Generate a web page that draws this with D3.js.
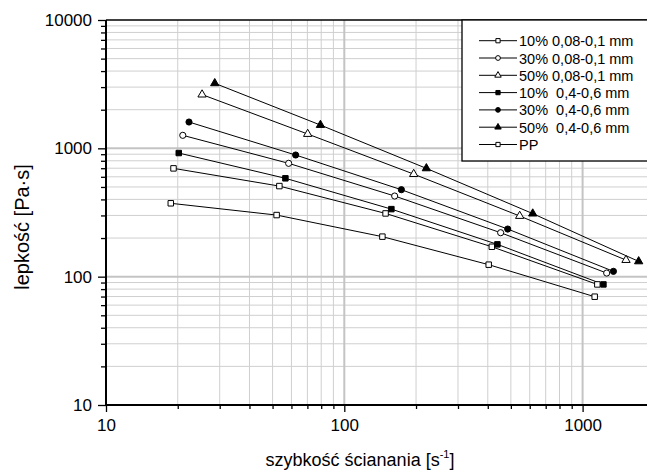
<!DOCTYPE html>
<html lang="pl">
<head>
    <meta charset="UTF-8">
    <title>Lepkość vs szybkość ścinania</title>
    <style>
        body { margin: 0; background: #fff; }
        svg { font-family: Arial, "Liberation Sans", sans-serif; }
        .legend text { white-space: pre; }
    </style>
</head>
<body>
    <div id="chart"></div>

    <script src="https://d3js.org/d3.v7.min.js"></script>
    <script>
        // data
        const seriesNames = ["10% 0,08-0,1 mm", "30% 0,08-0,1 mm", "50% 0,08-0,1 mm",
                             "10%  0,4-0,6 mm", "30%  0,4-0,6 mm", "50%  0,4-0,6 mm", "PP"];
        const shear10Fine   = [19.2, 53.4, 149, 416, 1153];
        const visc10Fine    = [698, 508, 311, 171, 87];
        const shear30Fine   = [21.0, 58.4, 162.7, 453, 1262];
        const visc30Fine    = [1263, 764, 425, 220, 106.7];
        const shear50Fine   = [25.3, 70.2, 195.5, 544.5, 1521];
        const visc50Fine    = [2622, 1293, 630, 297, 134.7];
        const shear10Coarse = [20.2, 56.6, 157.6, 439, 1223];
        const visc10Coarse  = [919, 584, 336, 178.5, 87];
        const shear30Coarse = [22.3, 62.5, 173.6, 485, 1347];
        const visc30Coarse  = [1603, 887, 476, 235, 110];
        const shear50Coarse = [28.6, 79.4, 221, 617.6, 1719];
        const visc50Coarse  = [3211, 1519, 698, 310, 131.5];
        const shearPP       = [18.7, 52.0, 144.5, 403.6, 1124];
        const viscPP        = [373, 302, 205, 124, 69.8];

        const xMajor = [10, 100, 1000];
        const yMajor = [10, 100, 1000, 10000];

        // marker styles per series
        const shapes = [d3.symbolSquare, d3.symbolCircle, d3.symbolTriangle,
                        d3.symbolSquare, d3.symbolCircle, d3.symbolTriangle, d3.symbolSquare];
        const filled = [false, false, false, true, true, true, false];

        const series = [
            [shear10Fine, visc10Fine], [shear30Fine, visc30Fine], [shear50Fine, visc50Fine],
            [shear10Coarse, visc10Coarse], [shear30Coarse, visc30Coarse], [shear50Coarse, visc50Coarse],
            [shearPP, viscPP]
        ].map((s, i) => ({
            name: seriesNames[i],
            points: s[0].map((x, j) => ({ x: x, y: s[1][j] }))
        }));

        const W = 647, H = 470;
        const plotLeft = 106, plotTop = 20, plotBottom = 405, plotRight = 660;

        const svg = d3.select("#chart").append("svg")
            .attr("width", W).attr("height", H);

        const x = d3.scaleLog()
            .domain([10, Math.pow(10, 1 + (plotRight - plotLeft) / 238.3)])
            .range([plotLeft, plotRight]);
        const y = d3.scaleLog().domain([10, 10000]).range([plotBottom, plotTop]);

        // minor values 2..9 per decade
        const xMinor = [], yMinor = [];
        [10, 100, 1000].forEach(d => { for (let k = 2; k <= 9; k++) xMinor.push(d * k); });
        [10, 100, 1000].forEach(d => { for (let k = 2; k <= 9; k++) yMinor.push(d * k); });

        // grid
        const grid = svg.append("g");
        grid.selectAll(".vmin").data(xMinor).enter().append("line")
            .attr("x1", d => x(d)).attr("x2", d => x(d))
            .attr("y1", plotTop).attr("y2", plotBottom)
            .attr("stroke", "#cfcfcf").attr("stroke-width", 1);
        grid.selectAll(".hmin").data(yMinor).enter().append("line")
            .attr("x1", plotLeft).attr("x2", W)
            .attr("y1", d => y(d)).attr("y2", d => y(d))
            .attr("stroke", "#cfcfcf").attr("stroke-width", 1);
        grid.selectAll(".vmaj").data(xMajor.slice(1)).enter().append("line")
            .attr("x1", d => x(d)).attr("x2", d => x(d))
            .attr("y1", plotTop).attr("y2", plotBottom)
            .attr("stroke", "#c4c4c4").attr("stroke-width", 2);
        grid.selectAll(".hmaj").data(yMajor.slice(1, 3)).enter().append("line")
            .attr("x1", plotLeft).attr("x2", W)
            .attr("y1", d => y(d)).attr("y2", d => y(d))
            .attr("stroke", "#c4c4c4").attr("stroke-width", 2);

        // top frame
        svg.append("line")
            .attr("x1", plotLeft).attr("x2", W)
            .attr("y1", plotTop).attr("y2", plotTop)
            .attr("stroke", "#000").attr("stroke-width", 1.5);

        // axes
        const xAxisMinor = d3.axisBottom(x).tickValues(xMinor).tickSize(4).tickFormat("");
        const xAxisMajor = d3.axisBottom(x).tickValues(xMajor).tickSize(7).tickFormat(d3.format("d"));
        const yAxisMinor = d3.axisLeft(y).tickValues(yMinor).tickSize(5).tickFormat("");
        const yAxisMajor = d3.axisLeft(y).tickValues(yMajor).tickSize(8).tickFormat(d3.format("d"));

        function styleAxis(g) {
            g.select(".domain").remove();
            g.selectAll(".tick line").attr("stroke", "#000").attr("stroke-width", 1.3);
            g.selectAll("text").attr("fill", "#000").attr("font-size", 17)
                .attr("font-family", "Arial, 'Liberation Sans', sans-serif");
        }

        svg.append("g").attr("transform", `translate(0,${plotBottom})`).call(xAxisMinor).call(styleAxis);
        svg.append("g").attr("transform", `translate(0,${plotBottom})`).call(xAxisMajor).call(styleAxis)
            .selectAll("text").attr("y", 14).attr("dy", "0.71em");
        svg.append("g").attr("transform", `translate(${plotLeft},0)`).call(yAxisMinor).call(styleAxis);
        svg.append("g").attr("transform", `translate(${plotLeft},0)`).call(yAxisMajor).call(styleAxis)
            .selectAll("text").attr("x", -14);

        // axis lines
        svg.append("line").attr("x1", plotLeft).attr("x2", plotLeft)
            .attr("y1", plotTop).attr("y2", plotBottom + 1)
            .attr("stroke", "#000").attr("stroke-width", 2);
        svg.append("line").attr("x1", plotLeft - 1).attr("x2", W)
            .attr("y1", plotBottom).attr("y2", plotBottom)
            .attr("stroke", "#000").attr("stroke-width", 2);

        // axis titles
        const xt = svg.append("text")
            .attr("x", 360).attr("y", 466)
            .attr("text-anchor", "middle")
            .attr("font-size", 18);
        xt.append("tspan").text("szybkość ścianania [s");
        xt.append("tspan").attr("font-size", 11).attr("dy", -8).text("-1");
        xt.append("tspan").attr("dy", 8).text("]");

        svg.append("text")
            .attr("transform", "translate(29,227) rotate(-90)")
            .attr("text-anchor", "middle")
            .attr("font-size", 20)
            .text("lepkość [Pa·s]");

        // lines
        const line = d3.line().x(d => x(d.x)).y(d => y(d.y));
        const plot = svg.append("g");
        plot.selectAll(".series").data(series).enter().append("path")
            .attr("d", d => line(d.points))
            .attr("fill", "none").attr("stroke", "#000").attr("stroke-width", 1);

        // markers
        function symbolFor(i, scale) {
            return d3.symbol().type(shapes[i]).size(30 * scale)();
        }

        series.forEach((s, i) => {
            plot.selectAll(".m" + i).data(s.points).enter().append("path")
                .attr("transform", d => `translate(${x(d.x)},${y(d.y)})`)
                .attr("d", symbolFor(i, 1))
                .attr("fill", filled[i] ? "#000" : "#fff")
                .attr("stroke", "#000").attr("stroke-width", 1);
        });

        // legend
        const legend = svg.append("g").attr("class", "legend");
        legend.append("rect")
            .attr("x", 462).attr("y", plotTop).attr("width", 200).attr("height", 141)
            .attr("fill", "#fff").attr("stroke", "#000").attr("stroke-width", 1.3);

        const rowY = d3.scaleLinear().domain([0, 6]).range([40.7, 144.5]);
        series.forEach((s, i) => {
            const g = legend.append("g").attr("transform", `translate(0,${rowY(i)})`);
            g.append("line").attr("x1", 479).attr("x2", 517).attr("y1", 0).attr("y2", 0)
                .attr("stroke", "#000").attr("stroke-width", 1);
            g.append("path").attr("transform", "translate(498,0)")
                .attr("d", symbolFor(i, 0.6))
                .attr("fill", filled[i] ? "#000" : "#fff")
                .attr("stroke", "#000").attr("stroke-width", 1);
            g.append("text").attr("x", 519).attr("y", 5.5)
                .attr("font-size", 14.5)
                .text(s.name);
        });
    </script>
</body>
</html>
